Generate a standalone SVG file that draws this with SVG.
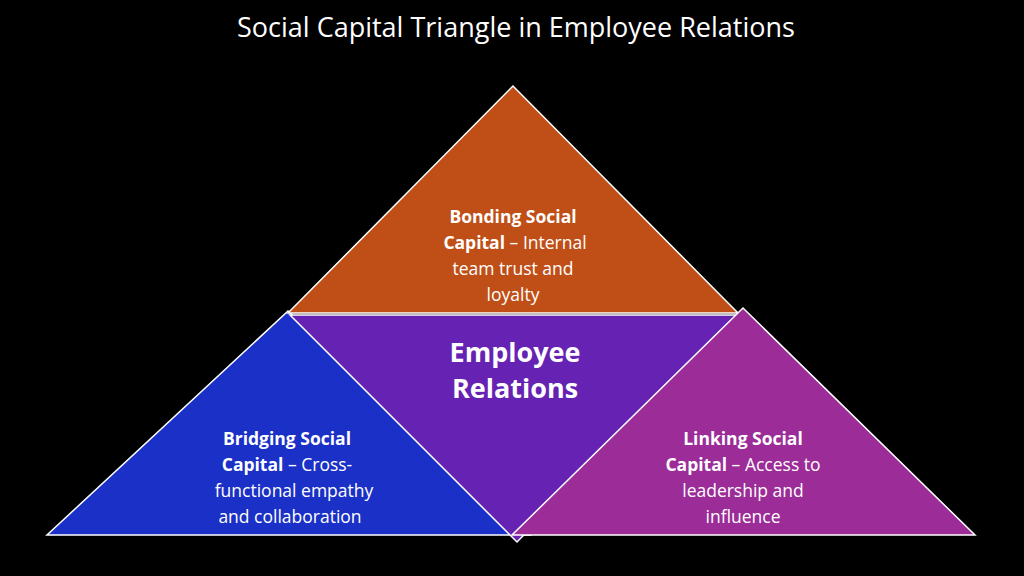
<svg xmlns="http://www.w3.org/2000/svg" width="1024" height="576" viewBox="0 0 1024 576">
<style>
.t{stroke:#fff;stroke-width:1.5;stroke-linejoin:miter}
text{font-family:"Open Sans","Liberation Sans",sans-serif;fill:#fff;text-anchor:middle}
.l{font-size:17.5px}
.b{font-weight:bold}
.c{font-size:27px;font-weight:bold}
</style>
<rect width="1024" height="576" fill="#000"/>
<text x="516" y="37" style="font-size:27px">Social Capital Triangle in Employee Relations</text>
<g id="bridging">
<polygon class="t" points="288,311 47,535 530,535" fill="#1A30C6"/>
<text class="l" x="287" y="445"><tspan class="b">Bridging Social</tspan><tspan x="287" dy="26"><tspan class="b">Capital</tspan> – Cross-</tspan><tspan x="294" dy="26">functional empathy</tspan><tspan x="290" dy="26">and collaboration</tspan></text>
</g>
<g id="bonding">
<polygon class="t" points="513,86 288,313 738,313" fill="#C04F17"/>
<text class="l" x="513" y="223"><tspan class="b">Bonding Social</tspan><tspan x="515" dy="26"><tspan class="b">Capital</tspan> – Internal</tspan><tspan x="513" dy="26">team trust and</tspan><tspan x="513" dy="26">loyalty</tspan></text>
</g>
<g id="employee-relations">
<polygon class="t" points="290,315 740,315 517,542" fill="#6622B2"/>
<text class="c" x="515" y="362">Employee<tspan x="515" dy="36">Relations</tspan></text>
</g>
<g id="linking">
<polygon class="t" points="743,308 512,535 975,535" fill="#9B2C98"/>
<text class="l" x="743" y="445"><tspan class="b">Linking Social</tspan><tspan x="743" dy="26"><tspan class="b">Capital</tspan> – Access to</tspan><tspan x="743" dy="26">leadership and</tspan><tspan x="743" dy="26">influence</tspan></text>
</g>
<g id="connectors"/>
</svg>
